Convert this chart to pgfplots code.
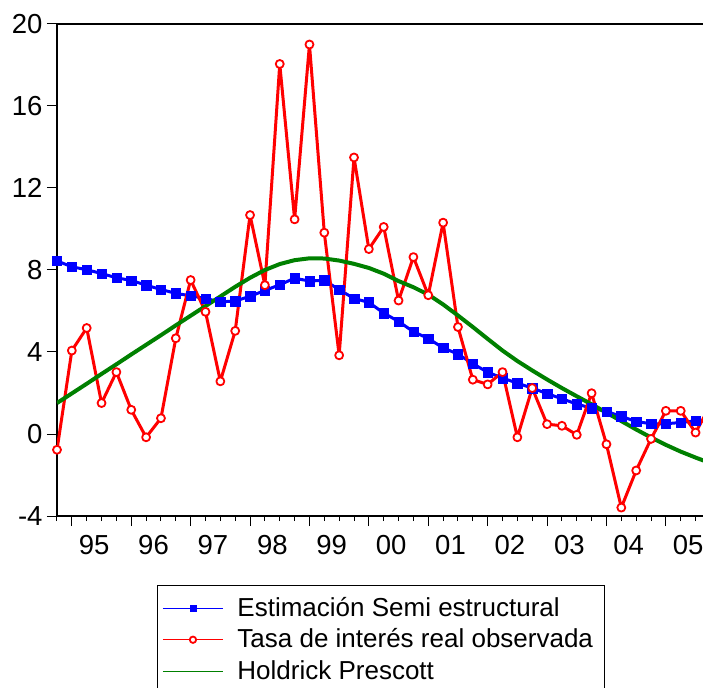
\documentclass[border=0pt]{standalone}
\usepackage{fontspec}
\setmainfont{Liberation Sans}
\usepackage{pgfplots}
\usepackage{pgfplotstable}
\pgfplotsset{compat=1.18}
\definecolor{evblue}{RGB}{0,0,255}
\definecolor{evred}{RGB}{255,0,0}
\definecolor{evgreen}{RGB}{0,128,0}

% quarters from 1994Q4 (q=0)
\pgfplotstableread{
q est obs hp
0 8.44 -0.77 1.51
1 8.16 4.07 1.98
2 8.01 5.17 2.45
3 7.83 1.51 2.93
4 7.62 3.02 3.40
5 7.49 1.18 3.88
6 7.26 -0.16 4.35
7 7.05 0.77 4.82
8 6.86 4.67 5.30
9 6.74 7.51 5.77
10 6.61 5.96 6.24
11 6.45 2.57 6.71
12 6.48 5.03 7.18
13 6.72 10.68 7.62
14 7.00 7.26 8.00
15 7.28 18.05 8.29
16 7.60 10.47 8.48
17 7.46 19.00 8.57
18 7.50 9.82 8.56
19 7.04 3.84 8.46
20 6.61 13.49 8.30
21 6.42 9.02 8.10
22 5.90 10.10 7.82
23 5.49 6.51 7.46
24 4.99 8.63 7.16
25 4.66 6.77 6.80
26 4.20 10.31 6.32
27 3.90 5.22 5.78
28 3.43 2.65 5.22
29 3.01 2.42 4.64
30 2.73 3.02 4.07
31 2.48 -0.16 3.56
32 2.24 2.24 3.10
33 1.97 0.48 2.66
34 1.72 0.40 2.24
35 1.46 -0.04 1.84
36 1.26 1.99 1.45
37 1.10 -0.50 1.04
38 0.86 -3.59 0.63
39 0.61 -1.78 0.22
40 0.50 -0.24 -0.17
41 0.50 1.13 -0.53
42 0.56 1.13 -0.86
43 0.64 0.07 -1.15
44 0.65 1.40 -1.42
}\datatable

\begin{document}
\begin{tikzpicture}[x=1pt,y=1pt]
\useasboundingbox (-57,-171) rectangle (646,516);
\begin{axis}[
  at={(0,0)}, anchor=south west,
  scale only axis, width=650pt, height=492pt,
  xmin=0, xmax=43.77, ymin=-4, ymax=20,
  ytick={-4,0,4,8,12,16,20},
  yticklabels={-4,0,4,8,12,16,20},
  xtick={1,5,...,41}, xticklabels={},
  minor xtick={0,1,...,44},
  extra x ticks={2.5,6.5,...,42.5},
  extra x tick labels={95,96,97,98,99,00,01,02,03,04,05},
  extra x tick style={major tick length=0pt, xticklabel style={yshift=-16pt}},
  tick align=outside, xtick pos=bottom, ytick pos=left,
  major tick length=10pt, minor tick length=5pt,
  tick style={black, line width=1pt},
  axis line style={line width=1.3pt},
  tick label style={font=\fontsize{27.5}{30}\selectfont},
  yticklabel style={xshift=-1pt},
  legend style={at={(axis description cs:0.1538,-0.1402)}, anchor=north west,
    draw=black, line width=1pt, inner xsep=5pt, inner ysep=7pt,
    font=\fontsize{26}{30}\selectfont, cells={anchor=west},
    nodes={inner xsep=6pt, inner ysep=1pt, text height=23pt, text depth=6.5pt},
    row sep=0pt, column sep=8pt},
  legend image code/.code={\draw[mark repeat=2,mark phase=2,#1,line width=1pt,mark size=3.2pt]
    plot coordinates {(0pt,0pt) (30pt,0pt) (60pt,0pt)};},
]
\addplot[evblue, line width=3pt, mark=square*, mark size=4.7pt,
  mark options={solid, line width=0.4pt}] table[x=q, y=est] {\datatable};
\addlegendentry{Estimación Semi estructural}
\addplot[evred, line width=3pt, line join=round, mark=*, mark size=4pt,
  mark options={solid, fill=white, draw=evred, line width=1.8pt}] table[x=q, y=obs] {\datatable};
\addlegendentry{Tasa de interés real observada}
\addplot[evgreen, line width=4pt, line join=round, no marks] table[x=q, y=hp] {\datatable};
\addlegendentry{Holdrick Prescott}
\end{axis}
\end{tikzpicture}
\end{document}
